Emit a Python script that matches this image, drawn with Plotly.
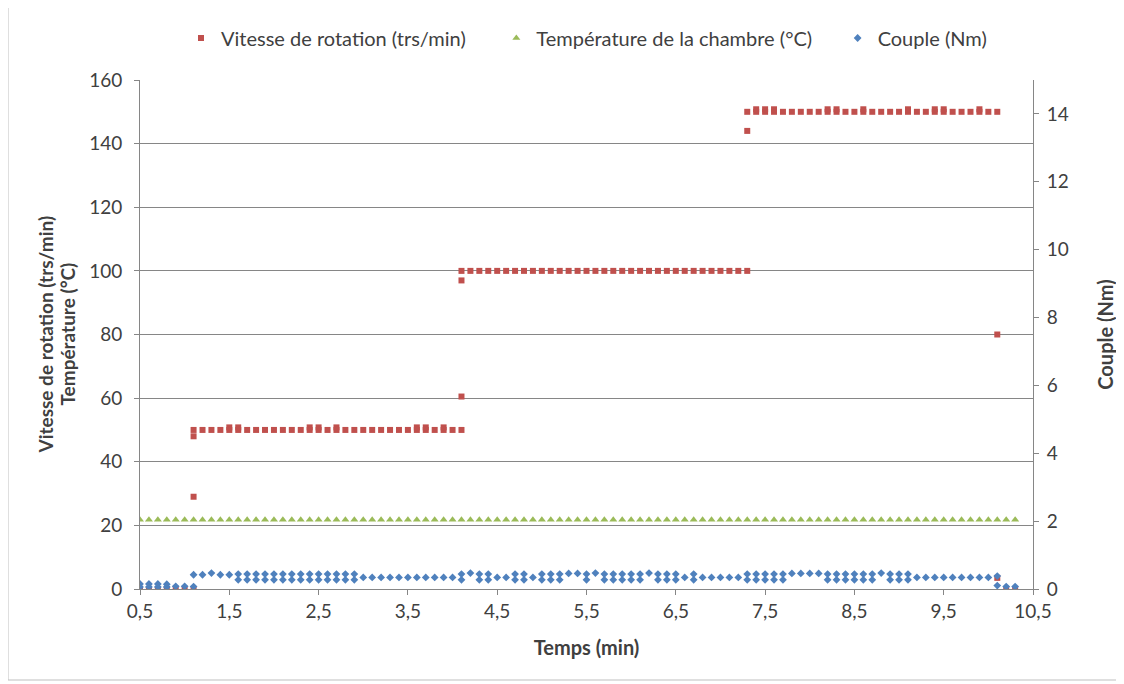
import plotly.graph_objects as go

# ---------------- data ----------------
temps = [0.5, 0.6, 0.7, 0.8, 0.9, 1.0, 1.1, 1.2, 1.3, 1.4,
         1.5, 1.6, 1.7, 1.8, 1.9, 2.0, 2.1, 2.2, 2.3, 2.4,
         2.5, 2.6, 2.7, 2.8, 2.9, 3.0, 3.1, 3.2, 3.3, 3.4,
         3.5, 3.6, 3.7, 3.8, 3.9, 4.0, 4.1, 4.2, 4.3, 4.4,
         4.5, 4.6, 4.7, 4.8, 4.9, 5.0, 5.1, 5.2, 5.3, 5.4,
         5.5, 5.6, 5.7, 5.8, 5.9, 6.0, 6.1, 6.2, 6.3, 6.4,
         6.5, 6.6, 6.7, 6.8, 6.9, 7.0, 7.1, 7.2, 7.3, 7.4,
         7.5, 7.6, 7.7, 7.8, 7.9, 8.0, 8.1, 8.2, 8.3, 8.4,
         8.5, 8.6, 8.7, 8.8, 8.9, 9.0, 9.1, 9.2, 9.3, 9.4,
         9.5, 9.6, 9.7, 9.8, 9.9, 10.0, 10.1, 10.2, 10.3]

vitesse = [0, 0, 0, 0, 0, 0, 50, 50, 50, 50,
           50, 50, 50, 50, 50, 50, 50, 50, 50, 50,
           50, 50, 50, 50, 50, 50, 50, 50, 50, 50,
           50, 50, 50, 50, 50, 50, 100, 100, 100, 100,
           100, 100, 100, 100, 100, 100, 100, 100, 100, 100,
           100, 100, 100, 100, 100, 100, 100, 100, 100, 100,
           100, 100, 100, 100, 100, 100, 100, 100, 150, 150,
           150, 150, 150, 150, 150, 150, 150, 150, 150, 150,
           150, 150, 150, 150, 150, 150, 150, 150, 150, 150,
           150, 150, 150, 150, 150, 150, 150, 0, 0]

# extra samples recorded at the same (rounded) time
vitesse_extra_t = [1.1, 1.1, 1.1, 4.1, 4.1, 4.1, 7.3, 7.3, 10.1, 10.1,
                   1.5, 1.6, 2.4, 2.5, 2.7, 3.6, 3.7, 3.9,
                   7.4, 7.5, 7.6, 8.2, 8.3, 8.6, 9.1, 9.4, 9.5, 9.9]
vitesse_extra = [0, 29, 48, 50, 60.5, 97, 100, 144, 80, 3.5,
                 50.8, 50.8, 50.8, 50.8, 50.8, 50.8, 50.8, 50.8,
                 150.8, 150.8, 150.8, 150.8, 150.8, 150.8, 150.8, 150.8, 150.8, 150.8]

temperature = [
    21.8, 21.8, 21.8, 21.8, 21.8, 21.8, 21.8, 21.8, 21.8, 21.8,
    21.8, 21.8, 21.8, 21.8, 21.8, 21.8, 21.8, 21.8, 21.8, 21.8,
    21.8, 21.8, 21.8, 21.8, 21.8, 21.8, 21.8, 21.8, 21.8, 21.8,
    21.8, 21.8, 21.8, 21.8, 21.8, 21.8, 21.8, 21.8, 21.8, 21.8,
    21.8, 21.8, 21.8, 21.8, 21.8, 21.8, 21.8, 21.8, 21.8, 21.8,
    21.8, 21.8, 21.8, 21.8, 21.8, 21.8, 21.8, 21.8, 21.8, 21.8,
    21.8, 21.8, 21.8, 21.8, 21.8, 21.8, 21.8, 21.8, 21.8, 21.8,
    21.8, 21.8, 21.8, 21.8, 21.8, 21.8, 21.8, 21.8, 21.8, 21.8,
    21.8, 21.8, 21.8, 21.8, 21.8, 21.8, 21.8, 21.8, 21.8, 21.8,
    21.8, 21.8, 21.8, 21.8, 21.8, 21.8, 21.8, 21.8, 21.8]

couple = [0.15, 0.15, 0.15, 0.14, 0.08, 0.08, 0.42, 0.42, 0.47, 0.42,
          0.42, 0.44, 0.44, 0.44, 0.44, 0.44, 0.44, 0.44, 0.44, 0.44,
          0.44, 0.44, 0.44, 0.44, 0.44, 0.34, 0.34, 0.34, 0.34, 0.34,
          0.34, 0.34, 0.34, 0.34, 0.34, 0.34, 0.44, 0.47, 0.44, 0.44,
          0.34, 0.34, 0.44, 0.44, 0.34, 0.44, 0.44, 0.44, 0.46, 0.46,
          0.44, 0.47, 0.44, 0.44, 0.44, 0.44, 0.44, 0.47, 0.44, 0.44,
          0.44, 0.34, 0.44, 0.34, 0.34, 0.34, 0.34, 0.34, 0.44, 0.44,
          0.44, 0.44, 0.44, 0.46, 0.46, 0.46, 0.46, 0.44, 0.44, 0.44,
          0.44, 0.44, 0.44, 0.47, 0.44, 0.44, 0.44, 0.34, 0.34, 0.34,
          0.34, 0.34, 0.34, 0.34, 0.34, 0.34, 0.38, 0.07, 0.07]

couple_extra_t = [0.5, 0.6, 0.7, 0.8, 1.1,
                  1.6, 1.7, 1.8, 1.9, 2.0, 2.1, 2.2, 2.3, 2.4, 2.5, 2.6, 2.7, 2.8, 2.9,
                  4.1, 4.3, 4.4, 4.7, 4.8, 5.0, 5.1, 5.2, 5.5, 5.7, 5.8, 5.9, 6.0, 6.1,
                  6.3, 6.4, 6.5, 6.7, 7.3, 7.4, 7.5, 7.6, 7.7,
                  8.2, 8.3, 8.4, 8.5, 8.6, 8.7, 8.9, 9.0, 9.1, 10.1]
couple_extra = [0.06, 0.06, 0.06, 0.06, 0.07,
                0.27, 0.27, 0.27, 0.27, 0.27, 0.27, 0.27, 0.27, 0.27, 0.27, 0.27, 0.27, 0.27, 0.27,
                0.27, 0.27, 0.27, 0.27, 0.27, 0.27, 0.27, 0.27, 0.27, 0.27, 0.27, 0.27, 0.27, 0.27,
                0.27, 0.27, 0.27, 0.27, 0.27, 0.27, 0.27, 0.27, 0.27,
                0.27, 0.27, 0.27, 0.27, 0.27, 0.27, 0.27, 0.27, 0.27, 0.10]

x_tickvals = [0.5, 1.5, 2.5, 3.5, 4.5, 5.5, 6.5, 7.5, 8.5, 9.5, 10.5]
x_ticktext = ["0,5", "1,5", "2,5", "3,5", "4,5", "5,5", "6,5", "7,5", "8,5", "9,5", "10,5"]
y_tickvals = [0, 20, 40, 60, 80, 100, 120, 140, 160]
y2_tickvals = [0, 2, 4, 6, 8, 10, 12, 14]

# ---------------- style ----------------
RED = "#C0504D"
GREEN = "#9BBB59"
BLUE = "#4F81BD"
AXIS = "#868686"
TXT = "#404040"
FONT = "Lato, 'Open Sans', sans-serif"
TICK = 19
LEG = 20
TITLE = 20
PAD = "\u00a0"

fig = go.Figure()

fig.add_trace(go.Scatter(
    x=temps + vitesse_extra_t, y=vitesse + vitesse_extra,
    mode="markers", name="Vitesse de rotation (trs/min)" + PAD * 5,
    marker=dict(symbol="square", size=6, color=RED),
    yaxis="y"))

fig.add_trace(go.Scatter(
    x=temps, y=temperature,
    mode="markers", name="Température de la chambre (°C)" + PAD * 4,
    marker=dict(symbol="triangle-up", size=7, color=GREEN),
    yaxis="y"))

fig.add_trace(go.Scatter(
    x=temps + couple_extra_t, y=couple + couple_extra,
    mode="markers", name="Couple (Nm)",
    marker=dict(symbol="diamond", size=6, color=BLUE),
    yaxis="y2"))

L, T = 132, 72
W, H = 1124, 684
pw, ph = 893, 509
R, B = W - L - pw, H - T - ph

fig.update_layout(
    width=W, height=H,
    margin=dict(l=L, r=R, t=T, b=B, autoexpand=False),
    paper_bgcolor="white", plot_bgcolor="white",
    font=dict(family=FONT, size=TICK, color=TXT),
    showlegend=True,
    legend=dict(orientation="h", x=(173 - L) / pw, xanchor="left",
                y=1 + (T - 30) / ph, yanchor="middle",
                font=dict(size=LEG, color=TXT),
                itemsizing="trace",
                bgcolor="rgba(0,0,0,0)"),
    xaxis=dict(range=[0.5, 10.5], tickvals=x_tickvals, ticktext=x_ticktext,
               showgrid=False, zeroline=False, showline=True, linecolor=AXIS,
               linewidth=1, ticks="outside", ticklen=5, tickcolor=AXIS,
               tickfont=dict(size=TICK, color=TXT),
               title=dict(text="<b>Temps (min)</b>", font=dict(size=TITLE, color=TXT),
                          standoff=20)),
    yaxis=dict(range=[0, 160], tickvals=y_tickvals,
               showgrid=True, gridcolor=AXIS, gridwidth=1,
               zeroline=False, showline=True, linecolor=AXIS, linewidth=1,
               ticks="outside", ticklen=5, tickcolor=AXIS, ticklabelstandoff=8,
               tickfont=dict(size=TICK, color=TXT)),
    yaxis2=dict(range=[0, 15], tickvals=y2_tickvals, overlaying="y", side="right",
                showgrid=False, zeroline=False, showline=True, linecolor=AXIS,
                linewidth=1, ticks="outside", ticklen=5, tickcolor=AXIS, ticklabelstandoff=4,
                tickfont=dict(size=TICK, color=TXT),
                title=dict(text="<b>Couple (Nm)</b>", font=dict(size=TITLE, color=TXT),
                           standoff=31)),
    annotations=[
        dict(text="<b>Vitesse de rotation (trs/min)</b>", textangle=-90,
             xref="paper", yref="paper", x=(37 - L) / pw, y=0.5,
             xanchor="center", yanchor="middle", showarrow=False,
             font=dict(size=19, color=TXT)),
        dict(text="<b>Température (°C)</b>", textangle=-90,
             xref="paper", yref="paper", x=(59 - L) / pw, y=0.5,
             xanchor="center", yanchor="middle", showarrow=False,
             font=dict(size=19, color=TXT)),
    ],
    shapes=[
        dict(type="line", xref="paper", yref="paper",
             x0=(0 - L) / pw, x1=(0 - L) / pw, y0=1 + (T + 8) / ph, y1=1 - (672 - T) / ph,
             line=dict(color="#BFBFBF", width=1)),
        dict(type="line", xref="paper", yref="paper",
             x0=(0 - L) / pw, x1=(W - L) / pw, y0=1 - (672 - T) / ph, y1=1 - (672 - T) / ph,
             line=dict(color="#BFBFBF", width=1)),
    ],
)

fig.write_html("out.html")
